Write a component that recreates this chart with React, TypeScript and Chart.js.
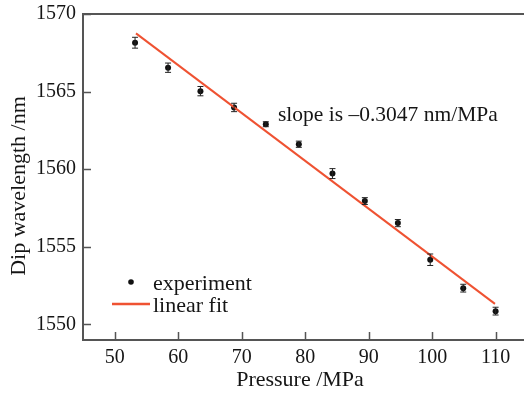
import React, { useEffect, useRef } from "react";
import { Chart, registerables } from "chart.js";

Chart.register(...registerables);

// ---- data ----
const pressure = [53.2, 58.4, 63.5, 68.8, 73.8, 79.0, 84.3, 89.4, 94.6, 99.7, 104.9, 110.0];
const wavelength = [1568.15, 1566.54, 1565.03, 1563.98, 1562.9, 1561.61, 1559.72, 1557.95, 1556.53, 1554.17, 1552.34, 1550.86];
const errors = [0.35, 0.3, 0.3, 0.27, 0.16, 0.2, 0.32, 0.22, 0.23, 0.37, 0.25, 0.25];
const fitX = [53.35, 109.9];
const fitY = [1568.75, 1551.33];
const xTicks = [50, 60, 70, 80, 90, 100, 110];
const yTicks = [1550, 1555, 1560, 1565, 1570];
const xTitle = "Pressure /MPa";
const yTitle = "Dip wavelength /nm";
const slopeText = "slope is \u20130.3047 nm/MPa";
const legendLabels = ["experiment", "linear fit"];

const FONT = "'Liberation Serif', 'Times New Roman', serif";
const TEXT = "#151515";
const AXIS = "#555555";
const RED = "#ef5232";

const overlay = {
  id: "overlay",
  afterDatasetsDraw(chart: any) {
    const ctx = chart.ctx;
    const xs = chart.scales.x;
    const ys = chart.scales.y;
    // error bars
    ctx.save();
    ctx.strokeStyle = "#222";
    ctx.lineWidth = 1;
    pressure.forEach((p, i) => {
      const px = xs.getPixelForValue(p);
      const y1 = ys.getPixelForValue(wavelength[i] + errors[i]);
      const y2 = ys.getPixelForValue(wavelength[i] - errors[i]);
      ctx.beginPath();
      ctx.moveTo(px, y1);
      ctx.lineTo(px, y2);
      ctx.moveTo(px - 3, y1);
      ctx.lineTo(px + 3, y1);
      ctx.moveTo(px - 3, y2);
      ctx.lineTo(px + 3, y2);
      ctx.stroke();
    });
    ctx.restore();
  },
  afterDraw(chart: any) {
    const ctx = chart.ctx;
    const a = chart.chartArea;
    const xs = chart.scales.x;
    const ys = chart.scales.y;
    ctx.save();
    // frame
    ctx.strokeStyle = AXIS;
    ctx.lineWidth = 2;
    ctx.beginPath();
    ctx.moveTo(chart.width, a.top);
    ctx.lineTo(a.left, a.top);
    ctx.lineTo(a.left, a.bottom);
    ctx.lineTo(chart.width, a.bottom);
    ctx.stroke();
    // inward ticks
    ctx.lineWidth = 1.5;
    ctx.beginPath();
    xTicks.forEach((v) => {
      const px = Math.round(xs.getPixelForValue(v)) + 0.5;
      ctx.moveTo(px, a.bottom);
      ctx.lineTo(px, a.bottom - 8);
    });
    yTicks.forEach((v) => {
      const py = Math.round(ys.getPixelForValue(v)) + 0.5;
      ctx.moveTo(a.left, py);
      ctx.lineTo(a.left + 8, py);
    });
    ctx.stroke();

    ctx.fillStyle = TEXT;
    // axis titles
    ctx.font = `22px ${FONT}`;
    ctx.textAlign = "center";
    ctx.textBaseline = "alphabetic";
    ctx.fillText(xTitle, 300, 386);
    ctx.save();
    ctx.translate(25, 186);
    ctx.rotate(-Math.PI / 2);
    ctx.fillText(yTitle, 0, 0);
    ctx.restore();

    // annotation
    ctx.font = `21.5px ${FONT}`;
    ctx.textAlign = "left";
    ctx.fillText(slopeText, 278, 121);

    // legend
    ctx.font = `22px ${FONT}`;
    ctx.fillStyle = "#111";
    ctx.beginPath();
    ctx.arc(131, 282, 2.8, 0, Math.PI * 2);
    ctx.fill();
    ctx.fillStyle = TEXT;
    ctx.fillText(legendLabels[0], 153, 290);
    ctx.strokeStyle = RED;
    ctx.lineWidth = 2.5;
    ctx.beginPath();
    ctx.moveTo(112, 304);
    ctx.lineTo(150, 304);
    ctx.stroke();
    ctx.fillText(legendLabels[1], 153, 312);
    ctx.restore();
  },
};

export default function App() {
  const ref = useRef<HTMLCanvasElement | null>(null);
  useEffect(() => {
    document.body.style.margin = "0";
    const canvas = ref.current!;
    const chart = new Chart(canvas, {
      type: "scatter",
      data: {
        datasets: [
          {
            label: legendLabels[0],
            data: pressure.map((p, i) => ({ x: p, y: wavelength[i] })),
            pointRadius: 3,
            pointHoverRadius: 3,
            backgroundColor: "#111",
            borderWidth: 0,
            order: 2,
          },
          {
            label: legendLabels[1],
            type: "line",
            data: fitX.map((x, i) => ({ x, y: fitY[i] })),
            borderColor: RED,
            borderWidth: 2,
            pointRadius: 0,
            showLine: true,
            fill: false,
            order: 1,
          } as any,
        ],
      },
      options: {
        responsive: false,
        animation: false,
        devicePixelRatio: 1,
        layout: { padding: { top: 14, right: 0, left: 0, bottom: 0 } },
        plugins: { legend: { display: false }, tooltip: { enabled: false } },
        scales: {
          x: {
            type: "linear",
            min: 45,
            max: 114,
            grid: { display: false, drawTicks: false },
            border: { display: false },
            afterBuildTicks: (s: any) => {
              s.ticks = xTicks.map((v) => ({ value: v }));
            },
            afterFit: (s: any) => {
              s.height = 53;
              s.paddingLeft = 0;
              s.paddingRight = 0;
            },
            ticks: {
              autoSkip: false,
              maxRotation: 0,
              padding: 6,
              color: TEXT,
              font: { family: FONT, size: 20 },
              callback: (v: any) => String(v),
            },
          },
          y: {
            type: "linear",
            min: 1549,
            max: 1570,
            grid: { display: false, drawTicks: false },
            border: { display: false },
            afterBuildTicks: (s: any) => {
              s.ticks = yTicks.map((v) => ({ value: v }));
            },
            afterFit: (s: any) => {
              s.width = 83;
              s.paddingTop = 0;
              s.paddingBottom = 0;
            },
            ticks: {
              autoSkip: false,
              padding: 7,
              color: TEXT,
              font: { family: FONT, size: 20 },
              callback: (v: any) => String(v),
            },
          },
        },
      },
      plugins: [overlay],
    });
    return () => chart.destroy();
  }, []);
  return <canvas ref={ref} width={524} height={393} style={{ display: "block" }} />;
}
